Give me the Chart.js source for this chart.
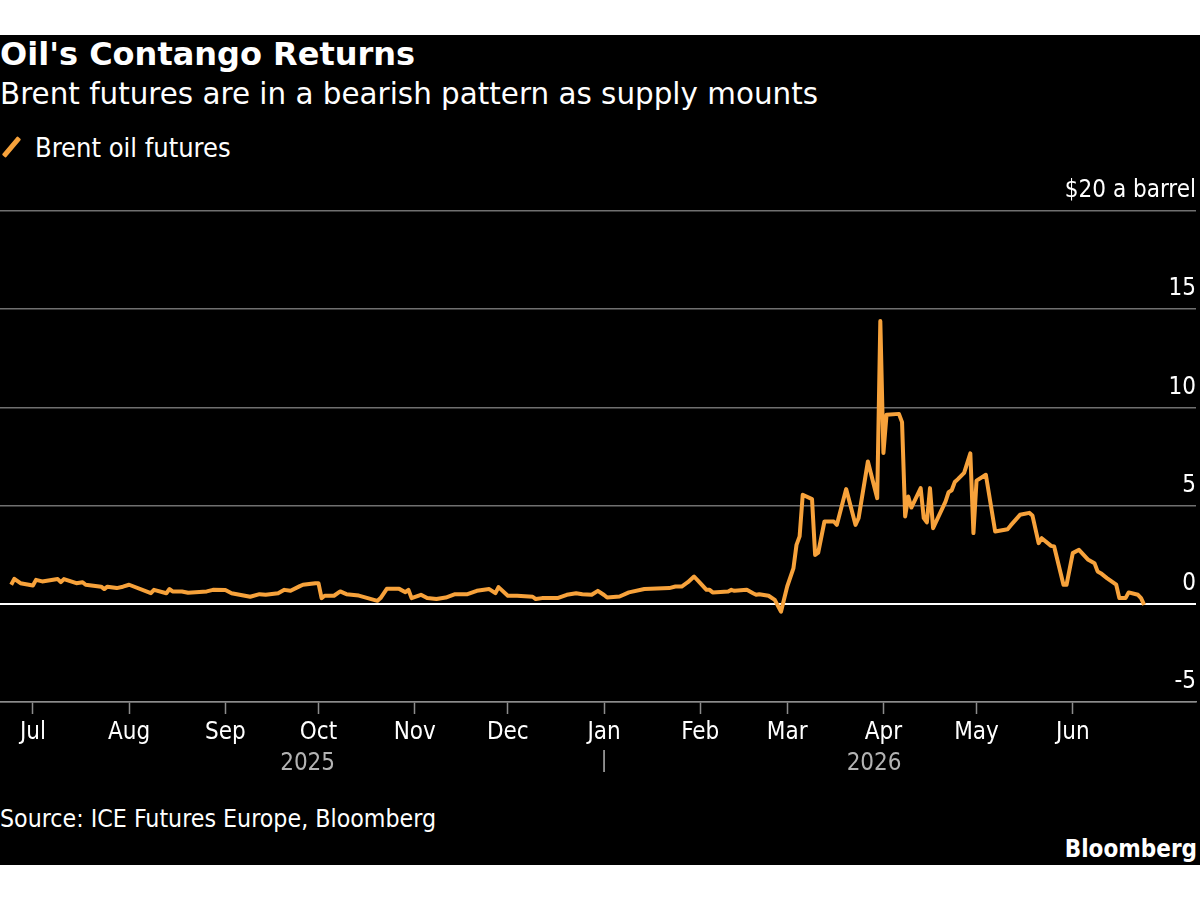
<!DOCTYPE html>
<html>
<head>
<meta charset="utf-8">
<title>Oil's Contango Returns</title>
<script src="https://cdn.jsdelivr.net/npm/chart.js@4.4.1/dist/chart.umd.min.js"></script>
<style>
  html, body { margin: 0; padding: 0; background: #fff; }
  body { width: 1200px; height: 900px; position: relative; overflow: hidden;
         font-family: "DejaVu Sans Condensed", "DejaVu Sans", sans-serif; }
  #frame { position: absolute; left: 0; top: 35px; width: 1200px; height: 830px; background: #000; }
  .txt { position: absolute; color: #fff; white-space: nowrap; line-height: 1.164; }
  #title { left: 0; top: 36px; font-size: 32px; font-weight: bold; font-family: "DejaVu Sans", sans-serif; }
  #subtitle { left: 0; top: 77px; font-size: 29.4px; font-family: "DejaVu Sans", sans-serif; }
  #legend { left: 35px; top: 132px; font-size: 27px; }
  #legend-mark { position: absolute; left: 9px; top: 135px; width: 5px; height: 24px;
                 background: #f7a23b; transform: rotate(40deg); border-radius: 1px; }
  #source { left: 0; top: 805px; font-size: 24.7px; }
  #brand { right: 3px; top: 836px; font-size: 24px; font-weight: bold; }
  #chart-wrap { position: absolute; left: 0; top: 170px; width: 1200px; height: 620px; }
</style>
</head>
<body>
<div id="frame"></div>
<div class="txt" id="title">Oil's Contango Returns</div>
<div class="txt" id="subtitle">Brent futures are in a bearish pattern as supply mounts</div>
<div id="legend-mark"></div>
<div class="txt" id="legend">Brent oil futures</div>
<div id="chart-wrap"><canvas id="chart" width="1200" height="620"></canvas></div>
<div class="txt" id="source">Source: ICE Futures Europe, Bloomberg</div>
<div class="txt" id="brand">Bloomberg</div>

<script>
// Brent spread, $ a barrel
var DATES = [
  '2025-06-24','2025-06-25','2025-06-27','2025-07-01','2025-07-02','2025-07-04','2025-07-09','2025-07-10',
  '2025-07-11','2025-07-15','2025-07-17','2025-07-18','2025-07-23','2025-07-24','2025-07-25','2025-07-28',
  '2025-07-30','2025-08-01','2025-08-08','2025-08-09','2025-08-13','2025-08-14','2025-08-15','2025-08-18',
  '2025-08-20','2025-08-26','2025-08-28','2025-09-01','2025-09-03','2025-09-09','2025-09-12','2025-09-14',
  '2025-09-18','2025-09-20','2025-09-22','2025-09-25','2025-09-26','2025-09-30','2025-10-01','2025-10-02',
  '2025-10-03','2025-10-06','2025-10-08','2025-10-10','2025-10-14','2025-10-18','2025-10-20','2025-10-21',
  '2025-10-23','2025-10-27','2025-10-29','2025-10-30','2025-10-31','2025-11-03','2025-11-05','2025-11-08',
  '2025-11-11','2025-11-14','2025-11-18','2025-11-21','2025-11-25','2025-11-27','2025-11-28','2025-12-01',
  '2025-12-04','2025-12-09','2025-12-10','2025-12-12','2025-12-17','2025-12-20','2025-12-23','2025-12-25',
  '2025-12-28','2025-12-30','2026-01-01','2026-01-02','2026-01-06','2026-01-09','2026-01-14','2026-01-22',
  '2026-01-24','2026-01-26','2026-01-28','2026-01-30','2026-02-01','2026-02-03','2026-02-04','2026-02-05',
  '2026-02-10','2026-02-11','2026-02-12','2026-02-16','2026-02-18','2026-02-19','2026-02-20','2026-02-23',
  '2026-02-25','2026-02-27','2026-03-01','2026-03-03','2026-03-04','2026-03-05','2026-03-06','2026-03-09',
  '2026-03-10','2026-03-11','2026-03-13','2026-03-16','2026-03-17','2026-03-20','2026-03-23','2026-03-24',
  '2026-03-27','2026-03-30','2026-03-31','2026-04-01','2026-04-02','2026-04-06','2026-04-07','2026-04-08',
  '2026-04-09','2026-04-10','2026-04-13','2026-04-14','2026-04-15','2026-04-16','2026-04-17','2026-04-21',
  '2026-04-22','2026-04-23','2026-04-24','2026-04-25','2026-04-27','2026-04-29','2026-04-30','2026-05-01',
  '2026-05-04','2026-05-07','2026-05-11','2026-05-12','2026-05-15','2026-05-18','2026-05-19','2026-05-21',
  '2026-05-22','2026-05-25','2026-05-26','2026-05-29','2026-05-30','2026-06-01','2026-06-03','2026-06-06',
  '2026-06-08','2026-06-09','2026-06-10','2026-06-12','2026-06-15','2026-06-16','2026-06-18','2026-06-19',
  '2026-06-22','2026-06-23','2026-06-24'
];

var BRENT = [
  0.97, 1.27, 1.05, 0.93, 1.22, 1.14, 1.26, 1.10,
  1.26, 1.05, 1.10, 0.97, 0.87, 0.75, 0.87, 0.80,
  0.87, 0.97, 0.54, 0.71, 0.54, 0.75, 0.63, 0.63,
  0.56, 0.63, 0.71, 0.70, 0.54, 0.36, 0.49, 0.46,
  0.54, 0.71, 0.66, 0.90, 0.97, 1.05, 1.05, 0.29,
  0.41, 0.41, 0.63, 0.49, 0.42, 0.24, 0.15, 0.29,
  0.76, 0.76, 0.59, 0.71, 0.29, 0.46, 0.29, 0.24,
  0.32, 0.49, 0.49, 0.66, 0.75, 0.54, 0.85, 0.41,
  0.41, 0.36, 0.24, 0.29, 0.29, 0.46, 0.54, 0.49,
  0.46, 0.66, 0.45, 0.32, 0.37, 0.58, 0.75, 0.80,
  0.88, 0.88, 1.10, 1.39, 1.05, 0.71, 0.71, 0.58,
  0.63, 0.71, 0.66, 0.71, 0.54, 0.46, 0.49, 0.41,
  0.20, -0.40, 0.88, 1.80, 3.00, 3.43, 5.55, 5.33,
  2.49, 2.61, 4.19, 4.19, 4.02, 5.84, 4.02, 4.36,
  7.25, 5.38, 14.40, 7.68, 9.62, 9.67, 9.25, 4.45,
  5.46, 4.90, 5.89, 4.36, 4.15, 5.89, 3.85, 5.20,
  5.68, 5.78, 6.20, 6.35, 6.67, 7.66, 3.60, 6.27,
  6.57, 3.68, 3.80, 3.99, 4.53, 4.63, 4.50, 3.09,
  3.34, 2.95, 2.92, 0.97, 0.97, 2.58, 2.75, 2.24,
  2.07, 1.65, 1.56, 1.31, 0.97, 0.29, 0.29, 0.58,
  0.46, 0.29, -0.05
];

var MONTH_TICKS = ['2025-07-01','2025-08-01','2025-09-01','2025-10-01','2025-11-01','2025-12-01',
                   '2026-01-01','2026-02-01','2026-03-01','2026-04-01','2026-05-01','2026-06-01'];
var MONTH_LABELS = ['Jul','Aug','Sep','Oct','Nov','Dec','Jan','Feb','Mar','Apr','May','Jun'];
var YEAR_LABELS = ['2025', '2026'];
var YEAR_SPLIT = '2026-01-01';
var Y_TICKS = [-5, 0, 5, 10, 15, 20];

var FONT = '"DejaVu Sans Condensed", "DejaVu Sans", sans-serif';
var ORANGE = '#f7a23b';

// days since 2025-07-01 (linear x scale, no date adapter needed)
function dayOf(s) {
  var p = s.split('-');
  return (Date.UTC(+p[0], +p[1] - 1, +p[2]) - Date.UTC(2025, 6, 1)) / 86400000;
}

var points = DATES.map(function (d, i) { return { x: dayOf(d), y: BRENT[i] }; });

/* year captions under the month labels, plus the | divider at Jan */
var yearLabels = {
  id: 'yearLabels',
  afterDraw: function (chart) {
    var xs = chart.scales.x, ctx = chart.ctx;
    var start = xs.getPixelForValue(dayOf(DATES[0]));
    var split = xs.getPixelForValue(dayOf(YEAR_SPLIT));
    var end = xs.getPixelForValue(dayOf(DATES[DATES.length - 1]));
    var base = xs.top + 68;
    ctx.save();
    ctx.fillStyle = '#b3b3b3';
    ctx.font = '24px ' + FONT;
    ctx.textAlign = 'center';
    ctx.textBaseline = 'alphabetic';
    ctx.fillText(YEAR_LABELS[0], (start + split) / 2, base);
    ctx.fillText(YEAR_LABELS[1], (split + end) / 2, base);
    ctx.strokeStyle = '#b3b3b3';
    ctx.lineWidth = 1.5;
    ctx.beginPath();
    ctx.moveTo(split, base - 20);
    ctx.lineTo(split, base + 2);
    ctx.stroke();
    ctx.restore();
  }
};

new Chart(document.getElementById('chart'), {
  type: 'line',
  data: {
    datasets: [{
      label: 'Brent oil futures',
      data: points,
      borderColor: ORANGE,
      borderWidth: 4,
      borderJoinStyle: 'round',
      pointRadius: 0,
      tension: 0,
      fill: false
    }]
  },
  options: {
    responsive: false,
    animation: false,
    devicePixelRatio: 1,
    layout: { padding: { top: 41, left: 0, right: 4, bottom: 0 } },
    plugins: { legend: { display: false }, tooltip: { enabled: false } },
    scales: {
      x: {
        type: 'linear',
        min: -10.6,
        max: 374.7,
        afterBuildTicks: function (axis) {
          axis.ticks = MONTH_TICKS.map(function (d) { return { value: dayOf(d) }; });
        },
        afterFit: function (axis) { axis.height = 88; },
        grid: { drawOnChartArea: false, drawTicks: true, tickLength: 12, tickColor: '#8c8c8c', tickWidth: 1.5 },
        border: { display: true, color: '#8c8c8c', width: 1.5 },
        ticks: {
          autoSkip: false, maxRotation: 0, padding: 4, color: '#fff',
          font: { family: FONT, size: 24 },
          callback: function (v, i) { return MONTH_LABELS[i]; }
        }
      },
      y: {
        position: 'right',
        min: -5,
        max: 20,
        afterBuildTicks: function (axis) {
          axis.ticks = Y_TICKS.map(function (v) { return { value: v }; });
        },
        afterFit: function (axis) { axis.width = 0; },
        grid: {
          drawTicks: false,
          color: function (c) { return c.tick && c.tick.value === 0 ? '#ffffff' : '#707070'; },
          lineWidth: function (c) { return c.tick && c.tick.value === 0 ? 2 : 1.5; }
        },
        border: { display: false },
        ticks: {
          mirror: true, padding: 0, labelOffset: -20, color: '#fff',
          font: { family: FONT, size: 24 },
          callback: function (v) { return v === 20 ? '$20 a barrel' : String(v); }
        }
      }
    }
  },
  plugins: [yearLabels]
});
</script>
</body>
</html>
